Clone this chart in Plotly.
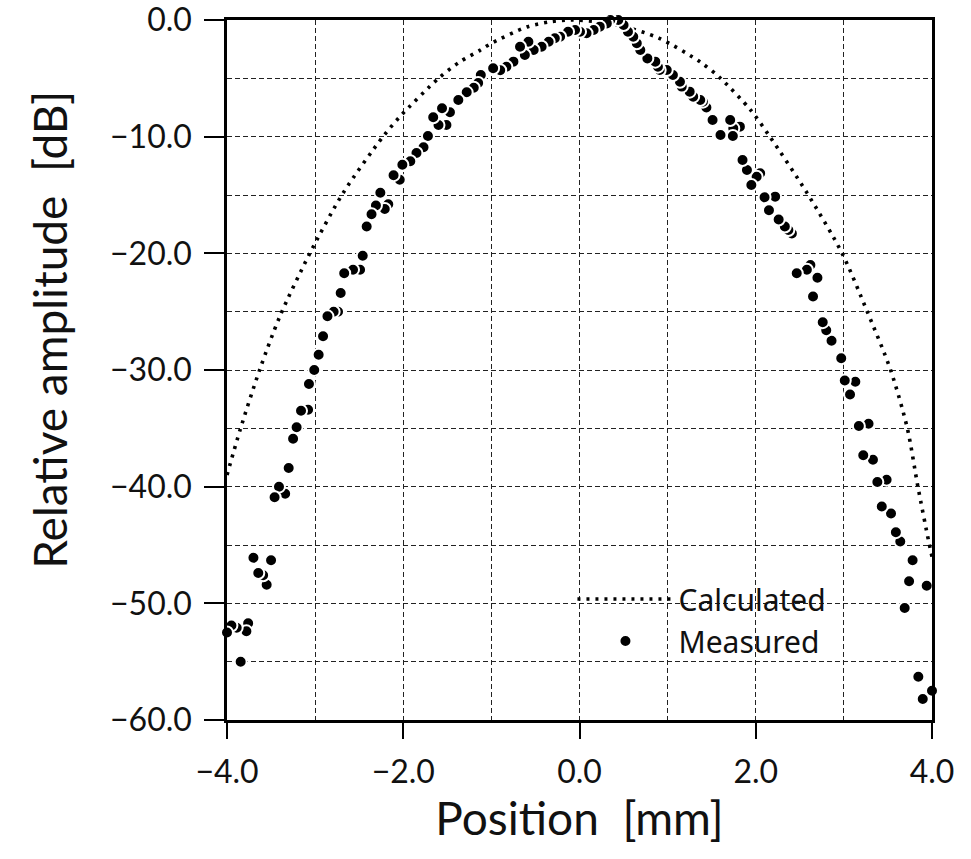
import plotly.graph_objects as go

# Calculated curve
calc_x = [-4.0, -3.85, -3.63, -3.40, -3.06, -2.68, -2.23, -2.04, -1.60, -1.36, -1.13, -1.0,
          -0.6, -0.33, -0.1, 0.2, 0.5, 0.9, 1.37, 1.6, 1.94, 2.16, 2.58, 2.98, 3.26, 3.53,
          3.72, 3.84, 3.96, 4.0]
calc_y = [-39.0, -35.1, -30.0, -25.4, -20.0, -14.8, -10.0, -8.3, -5.0, -3.6, -2.6, -2.0,
          -0.6, -0.15, 0.0, -0.15, -0.55, -1.55, -3.6, -5.0, -7.7, -10.0, -14.8, -20.0, -24.9,
          -30.0, -35.0, -40.0, -44.6, -46.0]

# Measured points
meas_x = [-4.00, -3.95, -3.89, -3.845, -3.78, -3.76, -3.70, -3.645, -3.59, -3.55, -3.50,
          -3.46, -3.41, -3.34, -3.30, -3.25, -3.21, -3.16, -3.08, -3.07, -3.01, -2.96, -2.91,
          -2.86, -2.79, -2.74, -2.71, -2.67, -2.57, -2.49, -2.46, -2.415, -2.36, -2.31, -2.26,
          -2.21, -2.17, -2.11, -2.04, -2.01, -1.92, -1.85, -1.77, -1.72, -1.66, -1.60, -1.56,
          -1.51, -1.47, -1.375, -1.28, -1.20, -1.15, -1.12, -0.98, -0.90, -0.83, -0.75, -0.675,
          -0.62, -0.58, -0.52, -0.43, -0.35, -0.28, -0.22, -0.13, -0.05, 0.006, 0.08, 0.16,
          0.23, 0.31, 0.35, 0.44, 0.50, 0.55, 0.61, 0.65, 0.69, 0.77, 0.86, 0.89, 0.91, 0.99,
          1.06, 1.14, 1.16, 1.25, 1.29, 1.37, 1.40, 1.44, 1.51, 1.60, 1.71, 1.74, 1.745, 1.82,
          1.85, 1.90, 1.95, 2.01, 2.05, 2.10, 2.15, 2.22, 2.26, 2.33, 2.37, 2.41, 2.465, 2.58,
          2.62, 2.65, 2.70, 2.76, 2.80, 2.86, 2.97, 3.01, 3.07, 3.13, 3.17, 3.22, 3.28, 3.33,
          3.38, 3.43, 3.485, 3.535, 3.59, 3.64, 3.69, 3.74, 3.78, 3.845, 3.895, 3.94, 4.00]
meas_y = [-52.5, -51.9, -52.1, -55.0, -52.4, -51.7, -46.1, -47.4, -47.6, -48.4, -46.3,
          -40.9, -40.0, -40.6, -38.4, -35.9, -34.9, -33.5, -33.4, -31.2, -30.0, -28.7, -27.1,
          -25.4, -25.0, -25.0, -23.4, -21.7, -21.4, -21.4, -20.2, -17.7, -16.65, -15.9, -14.8,
          -16.2, -15.8, -13.3, -13.7, -12.4, -12.1, -11.4, -10.9, -9.94, -8.34, -9.0, -7.57,
          -9.0, -7.9, -6.86, -6.2, -5.8, -5.4, -4.71, -4.14, -4.3, -4.0, -3.57, -2.29,
          -3.0, -1.86, -2.57, -2.29, -1.86, -1.57, -1.43, -1.0, -0.86, -1.0, -1.14, -0.86,
          -0.57, -0.29, 0.0, 0.0, -0.43, -1.0, -1.43, -2.0, -2.57, -3.29, -3.57, -4.0, -4.29, -4.29,
          -4.71, -5.29, -5.71, -6.14, -6.57, -6.86, -7.0, -7.5, -8.57, -9.86, -8.57, -9.94, -9.29, -9.14,
          -12.0, -12.86, -14.14, -13.43, -13.14, -15.2, -16.3, -15.14, -17.1, -17.7, -18.0, -18.3, -21.7, -21.4,
          -21.0, -23.7, -22.1, -25.9, -26.6, -27.5, -29.0, -30.9, -32.1, -31.0, -34.8, -37.3, -34.6, -37.7,
          -39.6, -41.7, -39.4, -42.3, -43.9, -44.7, -50.4, -48.1, -46.3, -56.3, -58.2, -48.5, -57.5]

x_ticks = [-4.0, -2.0, 0.0, 2.0, 4.0]
y_ticks = [0.0, -10.0, -20.0, -30.0, -40.0, -50.0, -60.0]

axis_font = dict(family="Lato, 'DejaVu Sans', sans-serif", size=32, color="#111")
title_font = dict(family="Lato, 'DejaVu Sans', sans-serif", size=46, color="#111")

fig = go.Figure()
fig.add_trace(go.Scatter(
    x=calc_x, y=calc_y, mode="lines", name="Calculated",
    line=dict(color="black", width=3.6, dash="3px,6px", shape="spline", smoothing=0.8),
    cliponaxis=False,
))
fig.add_trace(go.Scatter(
    x=meas_x[::-1], y=meas_y[::-1], mode="markers", name="Measured",
    marker=dict(color="black", size=12, line=dict(color="white", width=2)),
    cliponaxis=False,
))

grid = dict(showgrid=True, gridcolor="#222", gridwidth=1.4, griddash="5px,3px")
fig.update_xaxes(
    range=[-4, 4], tickvals=x_ticks, tickformat=".1f",
    ticks="outside", ticklen=16, tickwidth=1.5, tickcolor="black",
    showline=True, linecolor="black", linewidth=2.5, mirror=True,
    zeroline=False, tickfont=axis_font, ticklabelstandoff=6, ticklabeloverflow="allow",
    automargin=False,
    minor=dict(dtick=1, showgrid=True, gridcolor="#222", gridwidth=1.4, griddash="5px,3px", ticks=""),
    title=dict(text="Position\u00a0\u00a0[mm]", font=title_font, standoff=4),
    **grid,
)
fig.update_yaxes(
    range=[-60, 0], tickvals=y_ticks, tickformat=".1f",
    ticks="outside", ticklen=20, tickwidth=1.5, tickcolor="black",
    showline=True, linecolor="black", linewidth=2.5, mirror=True,
    zeroline=False, tickfont=axis_font, ticklabelstandoff=6, ticklabeloverflow="allow",
    automargin=False,
    minor=dict(dtick=5, tick0=0, showgrid=True, gridcolor="#222", gridwidth=1.4, griddash="5px,3px", ticks=""),
    **grid,
)
fig.add_annotation(
    text="Relative amplitude\u00a0\u00a0[dB]", textangle=-90,
    xref="paper", yref="paper", x=-0.253, y=0.557, xanchor="center", yanchor="middle",
    showarrow=False, font=title_font,
)
fig.update_layout(
    width=971, height=859,
    margin=dict(l=227, r=39, t=20, b=139, autoexpand=False),
    paper_bgcolor="white", plot_bgcolor="white",
    showlegend=True,
    legend=dict(x=0.49, y=0.21, xanchor="left", yanchor="top",
                bgcolor="rgba(0,0,0,0)", itemwidth=96,
                font=dict(family="'Noto Sans', 'Open Sans', sans-serif", size=30, color="#111")),
)
fig.write_html("out.html")
